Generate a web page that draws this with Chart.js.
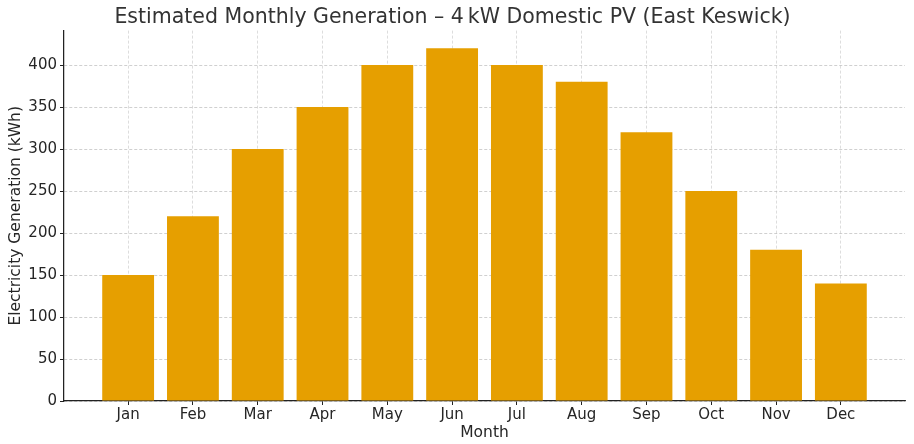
<!DOCTYPE html>
<html>
<head>
<meta charset="utf-8">
<script src="https://cdn.jsdelivr.net/npm/chart.js@4.4.0/dist/chart.umd.min.js"></script>
<style>
  html, body { margin: 0; padding: 0; background: #fff; }
  #wrap { width: 914px; height: 444px; }
</style>
</head>
<body>
<div id="wrap"><canvas id="pvChart" width="914" height="444"></canvas></div>
<script>
// Chart data
const months = ['Jan', 'Feb', 'Mar', 'Apr', 'May', 'Jun', 'Jul', 'Aug', 'Sep', 'Oct', 'Nov', 'Dec'];
const generation = [150, 220, 300, 350, 400, 420, 400, 380, 320, 250, 180, 140];
const yTicks = [0, 50, 100, 150, 200, 250, 300, 350, 400];

const FONT = "'DejaVu Sans', Verdana, sans-serif";
const TEXT = '#262626';

const ctx = document.getElementById('pvChart').getContext('2d');
const pvChart = new Chart(ctx, {
    type: 'bar',
    data: {
        datasets: [{
            label: 'Generation',
            data: generation.map((v, i) => ({ x: i, y: v })),
            backgroundColor: '#E69F00',
            borderWidth: 0,
            barPercentage: 0.8,
            categoryPercentage: 1.0
        }]
    },
    options: {
        responsive: false,
        animation: false,
        layout: { padding: { left: 0, right: 9, top: 5, bottom: 0 } },
        plugins: {
            legend: { display: false },
            tooltip: { enabled: false },
            title: {
                display: true,
                text: 'Estimated Monthly Generation \u2013 4\u2009kW Domestic PV (East Keswick)',
                color: '#333',
                font: { family: FONT, size: 20.5, weight: 'normal' },
                padding: { top: 0, bottom: 1 }
            }
        },
        scales: {
            x: {
                type: 'linear',
                min: -0.99,
                max: 11.99,
                offset: false,
                z: 1,
                afterBuildTicks: (scale) => {
                    scale.ticks = months.map((m, i) => ({ value: i }));
                },
                afterFit: (scale) => { scale.height = 43; },
                ticks: {
                    callback: (v) => months[v],
                    color: TEXT,
                    font: { family: FONT, size: 15 },
                    padding: 1,
                    maxRotation: 0,
                    autoSkip: false
                },
                grid: {
                    offset: false,
                    color: 'rgba(176,176,176,0.55)',
                    lineWidth: 0.8,
                    tickColor: '#222',
                    tickLength: 4,
                    tickWidth: 1
                },
                border: { display: true, color: '#222', width: 1.25, dash: [3, 2] },
                title: {
                    display: true,
                    text: 'Month',
                    color: TEXT,
                    font: { family: FONT, size: 15.5 },
                    padding: { top: 0, bottom: 2 }
                }
            },
            y: {
                min: 0,
                max: 441,
                afterBuildTicks: (scale) => {
                    scale.ticks = yTicks.map(v => ({ value: v }));
                },
                afterFit: (scale) => { scale.width = 64; },
                ticks: {
                    color: TEXT,
                    font: { family: FONT, size: 15 },
                    padding: 3
                },
                grid: {
                    color: 'rgba(176,176,176,0.75)',
                    lineWidth: 0.8,
                    tickColor: '#222',
                    tickLength: 4,
                    tickWidth: 1
                },
                border: { display: true, color: '#222', width: 1.25, dash: [3, 2] },
                title: {
                    display: true,
                    text: 'Electricity Generation (kWh)',
                    color: TEXT,
                    font: { family: FONT, size: 15.5 },
                    padding: { top: 7, bottom: 0 }
                }
            }
        }
    }
});
</script>
</body>
</html>
